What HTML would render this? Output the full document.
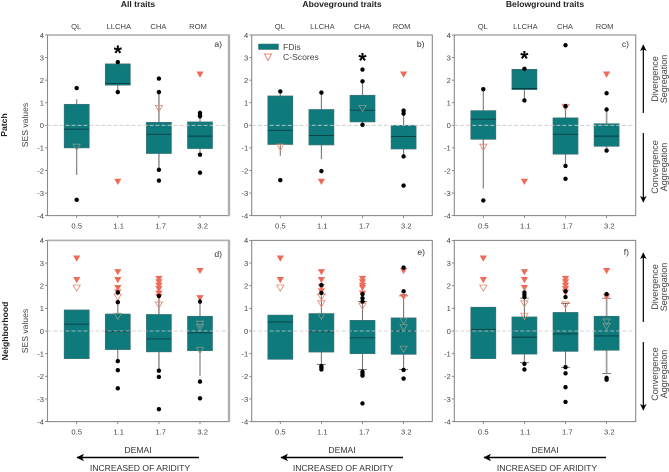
<!DOCTYPE html>
<html lang="en">
<head>
<meta charset="utf-8">
<title>SES values by aridity</title>
<style>
html,body{margin:0;padding:0;background:#fff;width:669px;height:472px;overflow:hidden}
svg{display:block}
text{font-family:"Liberation Sans",Arial,sans-serif;fill:#3a3a3a}
.tick{font-size:7.6px;fill:#444}
.cat{font-size:7.6px;fill:#444}
.title{font-size:8.6px;font-weight:bold;fill:#222}
.row{font-size:8.6px;font-weight:bold;fill:#222}
.ylab{font-size:8.6px;fill:#444}
.side{font-size:9px;fill:#444}
.xlab{font-size:8.6px;fill:#333}
.plab{font-size:8.6px;fill:#333}
.leg{font-size:8.6px;fill:#444}
</style>
</head>
<body>
<svg id="chart" width="669" height="472" viewBox="0 0 669 472" xmlns="http://www.w3.org/2000/svg">
  <defs>
    <marker id="ah" markerWidth="6" markerHeight="6" refX="5" refY="3" orient="auto-start-reverse" markerUnits="strokeWidth"><path d="M0,0.3 L5.5,3 L0,5.7 L1.4,3 Z" fill="#000"/></marker>
  </defs>
  <text class="title" x="138" y="7" text-anchor="middle">All traits</text>
  <text class="title" x="342" y="7" text-anchor="middle">Aboveground traits</text>
  <text class="title" x="545" y="7" text-anchor="middle">Belowground traits</text>
  <text class="row" transform="translate(7,125) rotate(-90)" text-anchor="middle">Patch</text>
  <text class="row" transform="translate(8,331) rotate(-90)" text-anchor="middle">Neighborhood</text>

  <g id="panels"></g>

  <g>
    <line x1="643.3" y1="113" x2="643.3" y2="45" stroke="#000" stroke-width="1.2" marker-end="url(#ah)"/>
    <line x1="643.3" y1="133" x2="643.3" y2="202" stroke="#000" stroke-width="1.2" marker-end="url(#ah)"/>
    <text class="side" transform="translate(658,79) rotate(-90)" text-anchor="middle">Divergence</text>
    <text class="side" transform="translate(667,79) rotate(-90)" text-anchor="middle">Segregation</text>
    <text class="side" transform="translate(658,167) rotate(-90)" text-anchor="middle">Convergence</text>
    <text class="side" transform="translate(667,167) rotate(-90)" text-anchor="middle">Aggregation</text>
  </g>
  <g>
    <line x1="643.3" y1="322" x2="643.3" y2="253" stroke="#000" stroke-width="1.2" marker-end="url(#ah)"/>
    <line x1="643.3" y1="342" x2="643.3" y2="410" stroke="#000" stroke-width="1.2" marker-end="url(#ah)"/>
    <text class="side" transform="translate(658,287) rotate(-90)" text-anchor="middle">Divergence</text>
    <text class="side" transform="translate(667,287) rotate(-90)" text-anchor="middle">Segregation</text>
    <text class="side" transform="translate(658,374) rotate(-90)" text-anchor="middle">Convergence</text>
    <text class="side" transform="translate(667,374) rotate(-90)" text-anchor="middle">Aggregation</text>
  </g>

  <g>
    <text class="xlab" x="138" y="453" text-anchor="middle">DEMAI</text>
    <line x1="199" y1="457.5" x2="77" y2="457.5" stroke="#000" stroke-width="1.4" marker-end="url(#ah)"/>
    <text class="xlab" x="140" y="471" text-anchor="middle">INCREASED OF ARIDITY</text>
  </g>
  <g>
    <text class="xlab" x="342" y="453" text-anchor="middle">DEMAI</text>
    <line x1="403" y1="457.5" x2="281" y2="457.5" stroke="#000" stroke-width="1.4" marker-end="url(#ah)"/>
    <text class="xlab" x="343" y="471" text-anchor="middle">INCREASED OF ARIDITY</text>
  </g>
  <g>
    <text class="xlab" x="545" y="453" text-anchor="middle">DEMAI</text>
    <line x1="606" y1="457.5" x2="484" y2="457.5" stroke="#000" stroke-width="1.4" marker-end="url(#ah)"/>
    <text class="xlab" x="547" y="471" text-anchor="middle">INCREASED OF ARIDITY</text>
  </g>

  <g>
    <rect x="258.5" y="44" width="20" height="5.5" fill="#0e7a7c" stroke="#3f6f70" stroke-width="0.5"/>
    <text class="leg" x="283" y="50">FDis</text>
    <path d="M264.5,54 L271.5,54 L268,60.5 Z" fill="none" stroke="#e8836f" stroke-width="0.9"/>
    <text class="leg" x="283" y="60">C-Scores</text>
  </g>
</svg>

<script>
const yTicks = [4, 3, 2, 1, 0, -1, -2, -3, -4];
const demaiLabels = ['0.5', '1.1', '1.7', '3.2'];
const speciesLabels = ['QL', 'LLCHA', 'CHA', 'ROM'];

/* Box values per category: q1, median, q3, whisker low, whisker high (null = no whisker) */
const aBoxes = [[-1.0,-0.17,0.93,-2.2,1.15],[1.78,1.85,2.72,1.5,2.8],[-1.25,-0.4,0.13,-1.95,1.45],[-1.03,-0.48,0.15,-1.3,0.4]];
const aPoints = [[1.65,-3.3],[2.8,1.47],[2.07,1.47,-1.97,-2.45],[0.55,0.45,0.4,-1.3,-2.1]];
const aFilled = [[],[-2.5],[],[2.25]];
const aOpen = [[-0.97],[],[0.75],[]];
const aStars = [null,3.3,null,null];

const bBoxes = [[-0.85,-0.22,1.3,-1.35,1.5],[-0.87,-0.45,0.7,-1.5,1.45],[0.15,0.67,1.33,0.03,1.95],[-1.05,-0.5,0,-1.38,0.5]];
const bPoints = [[1.5,-2.43],[1.45,-2.03],[2.47,1.95,0.02],[0.65,0.52,-1.38,-2.67]];
const bFilled = [[],[-2.5],[],[2.25]];
const bOpen = [[-0.97],[],[0.75],[]];
const bStars = [null,null,2.95,null];

const cBoxes = [[-0.62,0.27,0.65,-2.8,1.6],[1.58,1.63,2.48,1.1,2.5],[-1.28,-0.4,0.33,-1.8,0.8],[-0.93,-0.48,0.07,-1.1,0.7]];
const cPoints = [[1.6,-3.33],[2.5,1.1],[3.55,0.85,-1.8,-2.37],[1.42,0.7,-1.12]];
const cFilled = [[],[-2.5],[],[2.25]];
const cOpen = [[-0.97],[],[0.8],[]];
const cStars = [null,3.05,null,null];

const dBoxes = [[-1.22,0.3,0.93,null,null],[-0.82,-0.03,0.75,-1.3,1.25],[-0.92,-0.35,0.73,-1.75,1.5],[-0.87,-0.08,0.65,-2.0,1.3]];
const dPoints = [[],[1.7,1.27,-1.33,-1.73,-2.53],[1.55,-1.75,-2.03,-3.45],[1.3,-2.23,-2.97]];
const dFilled = [[3.2,2.25],[2.6,2.25,1.9,1.7],[2.3,2.15,2,1.85,1.65,1.5],[2.65,1.45]];
const dOpen = [[1.9],[1.5,0.65],[1.15],[0.3,0.15,-0.85]];

const eBoxes = [[-1.25,0.4,0.7,null,null],[-0.93,-0.03,0.77,-1.47,1.63],[-1.0,-0.3,0.47,-1.7,1.3],[-1.03,0,0.58,-1.7,1.55]];
const ePoints = [[],[2.03,1.68,-1.55,-1.62,-1.7],[1.63,1.45,1.3,-1.8,-1.9,-1.97,-3.2],[2.8,1.75,-1.72,-2.1]];
const eFilled = [[3.2,2.25],[2.6,2.25,1.95,1.75],[2.3,2.15,2,1.9,1.65],[2.65,1.5]];
const eOpen = [[1.9],[1.5,1.2,0.65],[1.1],[0.45,0.15,-0.8]];

const fBoxes = [[-1.22,0.07,1.05,null,null],[-1.02,-0.27,0.62,-1.4,1.45],[-0.9,-0.13,0.82,-1.6,1.22],[-0.85,-0.22,0.65,-1.87,1.45]];
const fPoints = [[],[1.7,1.6,1.5,-1.45,-1.7],[1.75,1.5,-1.6,-1.87,-2.48,-3.13],[1.63,-2.07,-2.15]];
const fFilled = [[3.2,2.25],[2.6,2.25,1.9],[2.3,2.15,2,1.85,1.7],[2.65,1.5]];
const fOpen = [[1.9],[1.2,0.65],[1.15],[0.4,0.2]];

const noStars = [null,null,null,null];

const SVGNS = 'http://www.w3.org/2000/svg';
const root = document.getElementById('panels');

function make(tag, attrs, parent, txt) {
  const el = document.createElementNS(SVGNS, tag);
  for (const k in attrs) el.setAttribute(k, attrs[k]);
  if (txt !== undefined) el.textContent = txt;
  parent.appendChild(el);
  return el;
}

function drawPanel(cfg) {
  const g = make('g', {}, root);
  
  

  const y = v => cfg.top + (4 - v) * (cfg.bottom - cfg.top) / 8;
  const x = i => cfg.first + i * cfg.step;
  const boxW = 25;

  /* Frame */
  const frame = make('rect', {x: cfg.left, y: cfg.top, width: cfg.right - cfg.left, height: cfg.bottom - cfg.top, fill: '#fff', stroke: '#8a8a8a', 'stroke-width': 1.1}, g);
  
  
  if (cfg.thickRight) {
    const edge = make('line', {x1: cfg.right, x2: cfg.right, y1: cfg.top - 0.5, y2: cfg.bottom + 0.5, stroke: '#b0b0b0', 'stroke-width': 2.4}, g);
    
    
    const topEdge = make('line', {x1: cfg.left, x2: cfg.right, y1: cfg.top, y2: cfg.top, stroke: '#b0b0b0', 'stroke-width': 1.6}, g);
    
    
  }

  /* Y axis ticks and labels */
  yTicks.forEach(t => {
    const tickMark = make('line', {x1: cfg.left - 2.5, x2: cfg.left, y1: y(t), y2: y(t), stroke: '#777', 'stroke-width': 0.8}, g);
    
    
    const lab = make('text', {class: 'tick', x: cfg.left - 3.5, y: y(t) + 2.8, 'text-anchor': 'end'}, g, String(t));
    
    
  });

  /* Category labels */
  demaiLabels.forEach((label, i) => {
    const tickMark = make('line', {x1: x(i), x2: x(i), y1: cfg.bottom, y2: cfg.bottom + 2.5, stroke: '#777', 'stroke-width': 0.8}, g);
    
    
    const lab = make('text', {class: 'tick', x: x(i) + i * 0.9, y: cfg.bottom + 13, 'text-anchor': 'middle'}, g, label);
    
    
    if (cfg.speciesY) {
      const sp = make('text', {class: 'cat', x: x(i) + (i === 1 ? 1 : i === 3 ? -2 : -0.5), y: cfg.speciesY, 'text-anchor': 'middle'}, g, speciesLabels[i]);
      
      
    }
  });

  /* Y axis title */
  if (cfg.ylabX) {
    const ylab = make('text', {class: 'ylab', transform: 'translate(' + cfg.ylabX + ',' + cfg.ylabY + ') rotate(-90)', 'text-anchor': 'middle'}, g, 'SES values');
    
    
  }

  /* Boxes */
  cfg.boxes.forEach((b, i) => {
    const q1 = b[0], med = b[1], q3 = b[2], lo = b[3], hi = b[4];
    const heavy = cfg.heavy.includes(i);
    const wColor = heavy ? '#a2a2a2' : '#777';
    const wWidth = heavy ? 1.8 : 1.1;
    if (lo !== null) {
      const wl = make('line', {x1: x(i), x2: x(i), y1: y(q1), y2: y(lo), stroke: wColor, 'stroke-width': wWidth}, g);
      
      
      const wh = make('line', {x1: x(i), x2: x(i), y1: y(q3), y2: y(hi), stroke: wColor, 'stroke-width': wWidth}, g);
      
      
      if (cfg.caps) {
        [lo, hi].forEach(c => {
          const cap = make('line', {x1: x(i) - 4.5, x2: x(i) + 4.5, y1: y(c), y2: y(c), stroke: '#444', 'stroke-width': 0.7}, g);
          
          
        });
      }
    }
    const box = make('rect', {x: x(i) - boxW / 2, y: y(q3), width: boxW, height: y(q1) - y(q3), fill: '#0e7a7c', stroke: '#3e7476', 'stroke-width': 0.7}, g);
    
    
    const m = make('line', {x1: x(i) - boxW / 2, x2: x(i) + boxW / 2, y1: y(med), y2: y(med), stroke: '#063f42', 'stroke-width': 0.9}, g);
    
    
  });

  /* Zero reference */
  const zero = make('line', {x1: cfg.left, x2: cfg.right, y1: y(0), y2: y(0), stroke: '#c9c9c9', 'stroke-width': 0.8, 'stroke-dasharray': '4 2'}, g);
  
  

  /* Open C-score triangles: drawn faint where they sit over a box */
  cfg.open.forEach((vals, i) => vals.forEach(v => {
    const inside = v > cfg.boxes[i][0] && v < cfg.boxes[i][2];
    const t = make('path', {d: tri(x(i), y(v)), fill: 'none', stroke: inside ? '#7e9a90' : '#e2866f', 'stroke-width': 0.8}, g);
    
    
  }));

  /* Filled C-score triangles */
  cfg.filled.forEach((vals, i) => vals.forEach(v => {
    const t = make('path', {d: tri(x(i), y(v)), fill: '#ee6b58', stroke: 'none'}, g);
    
    
  }));

  /* Outlier dots */
  cfg.points.forEach((vals, i) => vals.forEach(v => {
    const c = make('circle', {cx: x(i), cy: y(v), r: 2.2, fill: '#000'}, g);
    
    
  }));

  /* Significance stars */
  cfg.stars.forEach((v, i) => {
    if (v === null) return;
    const s = make('text', {x: x(i), y: y(v) + 9, 'text-anchor': 'middle', 'font-size': 21, 'font-weight': 'bold', style: 'fill:#000'}, g, '*');
    
    
  });

  /* Panel letter */
  const pl = make('text', {class: 'plab', x: cfg.letterX, y: cfg.letterY, 'text-anchor': 'end'}, g, cfg.id + ')');
  
  
}

function tri(cx, cy) {
  return 'M' + (cx - 3.6) + ',' + (cy - 3) + ' L' + (cx + 3.6) + ',' + (cy - 3) + ' L' + cx + ',' + (cy + 3.2) + ' Z';
}

const upperTop = 35, upperBottom = 215.6, lowerTop = 240.4, lowerBottom = 421.6;

drawPanel({id:'a', left:47.5, right:229, first:76.7, step:41.1, top:upperTop, bottom:upperBottom, thickRight:true, heavy:[2], speciesY:29, ylabX:28, ylabY:125, letterX:222, letterY:47, caps:false, boxes:aBoxes, points:aPoints, filled:aFilled, open:aOpen, stars:aStars});
drawPanel({id:'b', left:251.7, right:432.3, first:280.3, step:41.1, top:upperTop, bottom:upperBottom, heavy:[], speciesY:29, ylabX:0, ylabY:0, letterX:424.5, letterY:47, caps:false, boxes:bBoxes, points:bPoints, filled:bFilled, open:bOpen, stars:bStars});
drawPanel({id:'c', left:454.3, right:635.7, first:483.3, step:41.1, top:upperTop, bottom:upperBottom, heavy:[3], speciesY:29, ylabX:0, ylabY:0, letterX:629, letterY:47, caps:false, boxes:cBoxes, points:cPoints, filled:cFilled, open:cOpen, stars:cStars});
drawPanel({id:'d', left:47.5, right:229, first:76.7, step:41.1, top:lowerTop, bottom:lowerBottom, thickRight:true, heavy:[2], speciesY:0, ylabX:28, ylabY:331, letterX:222, letterY:257, caps:false, boxes:dBoxes, points:dPoints, filled:dFilled, open:dOpen, stars:noStars});
drawPanel({id:'e', left:251.7, right:432.3, first:280.3, step:41.1, top:lowerTop, bottom:lowerBottom, heavy:[], speciesY:0, ylabX:0, ylabY:0, letterX:425, letterY:255, caps:true, boxes:eBoxes, points:ePoints, filled:eFilled, open:eOpen, stars:noStars});
drawPanel({id:'f', left:454.3, right:635.7, first:483.3, step:41.1, top:lowerTop, bottom:lowerBottom, heavy:[3], speciesY:0, ylabX:0, ylabY:0, letterX:629, letterY:255, caps:true, boxes:fBoxes, points:fPoints, filled:fFilled, open:fOpen, stars:noStars});
</script>
</body>
</html>
